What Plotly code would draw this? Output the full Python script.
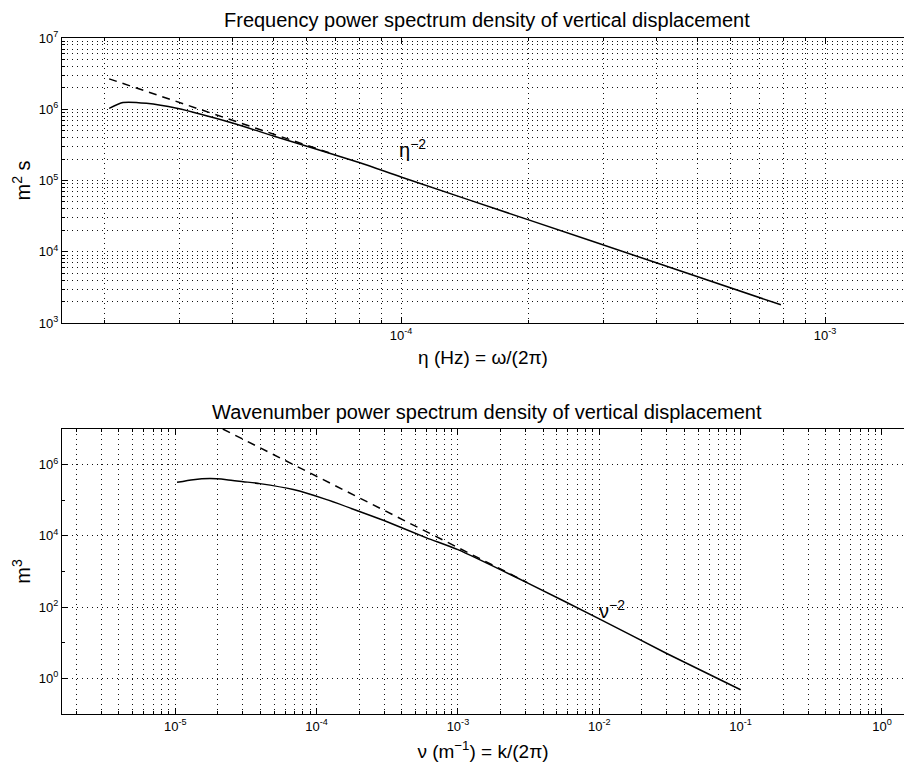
import math
import plotly.graph_objects as go
from plotly.subplots import make_subplots

# ---------------- data ----------------
# Top panel: frequency spectrum
freq_hz = [2.05e-5, 2.21e-5, 2.51e-5, 2.96e-5, 4.02e-5, 5.0e-5, 8.0e-5,
           1.0e-4, 2.0e-4, 4.0e-4, 7.87e-4]
freq_psd = [1.03e6, 1.24e6, 1.21e6, 1.03e6, 6.35e5, 4.22e5, 1.78e5,
            1.12e5, 2.8e4, 7.0e3, 1.8e3]
freq_ref_hz = [2.05e-5, 7.0e-5]
freq_ref_psd = [2.67e6, 2.29e5]

# Bottom panel: wavenumber spectrum
wn = [1.03e-5, 1.34e-5, 1.76e-5, 2.31e-5, 3.03e-5, 3.97e-5, 6.84e-5, 1.18e-4,
      2.0e-4, 3.0e-4, 6.0e-4, 1.0e-3, 3.1e-3, 1.0e-2, 3.0e-2, 1.0e-1]
wn_psd = [3.18e5, 3.79e5, 4.05e5, 3.79e5, 3.33e5, 2.93e5, 1.99e5, 1.04e5,
          4.9e4, 2.7e4, 8.8e3, 4.1e3, 480, 47, 5.0, 0.48]
wn_ref = [2.17e-5, 3.1e-3]
wn_ref_psd = [1.0e7, 489]

# tick definitions
top_x_major = [1e-4, 1e-3]
top_y_major = [1e3, 1e4, 1e5, 1e6, 1e7]
bot_x_major = [1e-5, 1e-4, 1e-3, 1e-2, 1e-1, 1e0]
bot_y_major = [1e0, 1e2, 1e4, 1e6]
bot_y_minor = [1e-1, 1e1, 1e3, 1e5, 1e7]


def label(v):
    return "10<sup>%d</sup>" % round(math.log10(v))


def minors(lo_exp, hi_exp):
    out = []
    for e in range(lo_exp, hi_exp + 1):
        for m in range(2, 10):
            out.append(m * 10.0 ** e)
    return out


FONT = "Liberation Sans, Arial, Helvetica, sans-serif"
GRID = dict(showgrid=True, gridcolor="#111111", gridwidth=1.1, griddash="1px,4px")

fig = make_subplots(rows=2, cols=1)

fig.add_trace(go.Scatter(x=freq_hz, y=freq_psd, mode="lines",
                         line=dict(color="black", width=1.5, shape="spline", smoothing=0.6),
                         showlegend=False), row=1, col=1)
fig.add_trace(go.Scatter(x=freq_ref_hz, y=freq_ref_psd, mode="lines",
                         line=dict(color="black", width=1.5, dash="8px,6px"),
                         showlegend=False), row=1, col=1)
fig.add_trace(go.Scatter(x=wn, y=wn_psd, mode="lines",
                         line=dict(color="black", width=1.5, shape="spline", smoothing=0.6),
                         showlegend=False), row=2, col=1)
fig.add_trace(go.Scatter(x=wn_ref, y=wn_ref_psd, mode="lines",
                         line=dict(color="black", width=1.5, dash="8px,6px"),
                         showlegend=False), row=2, col=1)

axis_common = dict(type="log", showline=True, linecolor="black", linewidth=1.2,
                   ticks="inside", ticklen=6, tickcolor="black",
                   tickfont=dict(family=FONT, size=13, color="black"),
                   zeroline=False, automargin=False)

W, H = 904, 772
TITLE_FONT = dict(family=FONT, size=19, color="black")
# top panel
fig.update_xaxes(**axis_common, **GRID, row=1, col=1,
                 range=[-4.7995, -2.8137], domain=[0, 1], mirror="ticks",
                 tickvals=top_x_major, ticktext=[label(v) for v in top_x_major],
                 minor=dict(tickvals=minors(-5, -3), ticks="inside", ticklen=3,
                            tickcolor="black", **GRID),
                 title=dict(text="η (Hz) = ω/(2π)", font=TITLE_FONT, standoff=8))
fig.update_yaxes(**axis_common, **GRID, row=1, col=1,
                 range=[3, 7], domain=[1 - 323 / H, 1 - 38 / H],
                 tickvals=top_y_major, ticktext=[label(v) for v in top_y_major],
                 minor=dict(tickvals=minors(3, 6), ticks="inside", ticklen=3,
                            tickcolor="black", **GRID),
                 title=dict(text="m<sup>2</sup> s", font=dict(family=FONT, size=20, color="black"),
                            standoff=2))
# bottom panel
fig.update_xaxes(**axis_common, **GRID, row=2, col=1,
                 range=[-5.801, 0.156], domain=[0, 1], mirror="ticks",
                 tickvals=bot_x_major, ticktext=[label(v) for v in bot_x_major],
                 minor=dict(tickvals=minors(-6, 0), ticks="inside", ticklen=3,
                            tickcolor="black", **GRID),
                 title=dict(text="ν (m<sup>−1</sup>) = k/(2π)", font=TITLE_FONT, standoff=11))
fig.update_yaxes(**axis_common, **GRID, row=2, col=1,
                 range=[-1, 7], domain=[1 - 714 / H, 1 - 429 / H],
                 tickvals=bot_y_major, ticktext=[label(v) for v in bot_y_major],
                 minor=dict(tickvals=bot_y_minor, ticks="inside", ticklen=3,
                            tickcolor="black", showgrid=False),
                 title=dict(text="m<sup>3</sup>", font=dict(family=FONT, size=20, color="black"),
                            standoff=2))

annotations = [
    dict(text="Frequency power spectrum density of vertical displacement",
         xref="paper", yref="paper", x=(487 - 62) / 842, y=1 - 20 / H,
         showarrow=False, font=dict(family=FONT, size=20, color="black"),
         xanchor="center", yanchor="middle"),
    dict(text="Wavenumber power spectrum density of vertical displacement",
         xref="paper", yref="paper", x=(487 - 62) / 842, y=1 - 412 / H,
         showarrow=False, font=dict(family=FONT, size=20, color="black"),
         xanchor="center", yanchor="middle"),
    dict(text="η<sup>−2</sup>", xref="x", yref="y", x=-3.974, y=5.456,
         showarrow=False, font=dict(family=FONT, size=20, color="black")),
    dict(text="ν<sup>−2</sup>", xref="x2", yref="y2", x=-1.908, y=1.93,
         showarrow=False, font=dict(family=FONT, size=20, color="black")),
]

fig.update_layout(width=W, height=H, margin=dict(l=62, r=0, t=0, b=0),
                  paper_bgcolor="white", plot_bgcolor="white",
                  font=dict(family=FONT, color="black"),
                  annotations=annotations, showlegend=False)

fig.write_html("out.html", config={"displayModeBar": False},
               post_script="document.body.style.margin='0px';"
                           "document.body.style.overflow='hidden';")
